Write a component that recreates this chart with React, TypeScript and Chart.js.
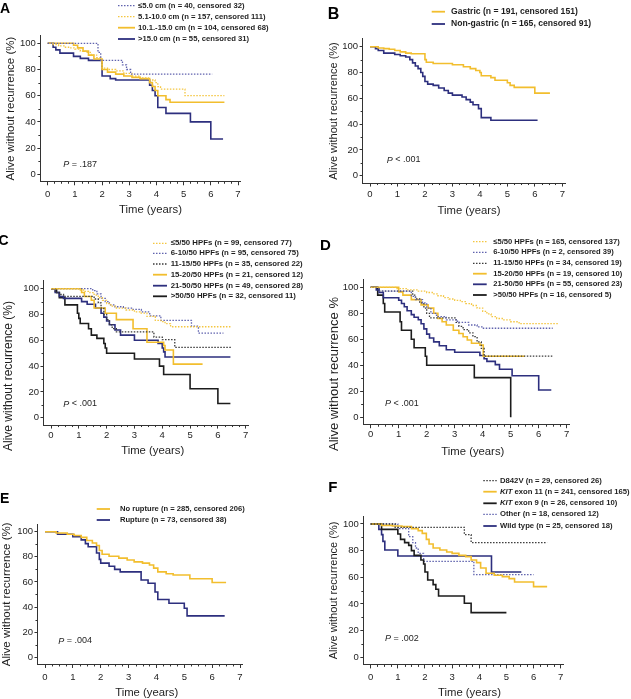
import React, { useEffect, useRef } from "react";
import { Chart, registerables } from "chart.js";

Chart.register(...registerables);

const FONT = '"Liberation Sans", Arial, Helvetica, sans-serif';

// ---------------- data ----------------
const X_TICKS = [0, 1, 2, 3, 4, 5, 6, 7];
const Y_TICKS = [0, 20, 40, 60, 80, 100];
const X_MINOR = [0.25, 0.5, 0.75, 1.25, 1.5, 1.75, 2.25, 2.5, 2.75, 3.25, 3.5, 3.75, 4.25, 4.5, 4.75, 5.25, 5.5, 5.75, 6.25, 6.5, 6.75];
const Y_MINOR = [10, 30, 50, 70, 90];

// Panel A – tumour size
const aLabels = [
  "≤5.0 cm (n = 40, censored 32)",
  "5.1-10.0 cm (n = 157, censored 111)",
  "10.1.-15.0 cm (n = 104, censored 68)",
  ">15.0 cm (n = 55, censored 31)",
];
const aT1 = [0, 1.85, 1.95, 2.75, 2.9, 3.05, 6.05];
const aS1 = [100, 93, 87, 83.5, 80, 76.5, 76.5];
const aT2 = [0, 0.2, 0.4, 0.6, 0.8, 1.0, 1.2, 1.4, 1.6, 1.8, 1.95, 2.0, 2.2, 2.5, 2.8, 3.1, 3.4, 3.7, 3.95, 4.05, 4.15, 5.05, 6.5];
const aS2 = [100, 99, 98, 97, 96.5, 95.5, 94, 93, 91, 89, 87, 81, 80, 79, 77, 75, 73.5, 72, 70, 67, 65, 60, 60];
const aT3 = [0, 0.95, 1.1, 1.3, 1.5, 1.7, 2.0, 2.2, 2.5, 2.8, 3.1, 3.4, 3.75, 3.85, 3.95, 4.05, 4.35, 4.5, 6.5];
const aS3 = [100, 98.5, 96.5, 94, 91, 88, 80, 78, 76.5, 75, 74, 73, 70, 67, 64, 60, 57, 55, 55];
const aT4 = [0, 0.2, 0.3, 0.45, 0.95, 1.2, 1.5, 2.0, 2.3, 2.5, 3.75, 3.85, 3.95, 4.05, 4.35, 5.25, 6.0, 6.45];
const aS4 = [100, 97, 95, 92.5, 90, 88.5, 87, 75, 73, 72, 68, 64, 60, 51, 46.5, 40, 27, 27];

// Panel B – location
const bLabels = ["Gastric (n = 191, censored 151)", "Non-gastric (n = 165, censored 91)"];
const bT1 = [0, 0.3, 0.5, 0.7, 0.9, 1.1, 1.3, 1.5, 2.0, 2.05, 2.3, 3.0, 3.4, 3.65, 3.85, 4.0, 4.05, 4.4, 4.55, 5.0, 5.1, 5.25, 6.0, 6.55];
const bS1 = [100, 99, 98.5, 98, 97, 96, 95, 94.5, 90, 88, 87, 86, 84.5, 83, 81.5, 80, 77.5, 76, 74, 72, 70, 68.5, 64, 64];
const bT2 = [0, 0.2, 0.3, 0.5, 0.9, 1.1, 1.3, 1.45, 1.55, 1.65, 1.75, 1.85, 1.92, 2.0, 2.1, 2.3, 2.5, 2.7, 2.85, 3.0, 3.35, 3.5, 3.65, 3.75, 3.95, 4.05, 4.4, 6.1];
const bS2 = [100, 98.5, 97, 95, 94, 93, 92, 90, 87.5, 85, 83, 80, 77, 73, 71, 70, 68, 66, 64, 62.5, 61, 59, 57, 55, 52, 45, 43, 43];

// Panel C – mitotic count
const cLabels = [
  "≤5/50 HPFs (n = 99, censored 77)",
  "6-10/50 HPFs (n = 95, censored 75)",
  "11-15/50 HPFs (n = 35, censored 22)",
  "15-20/50 HPFs (n = 21, censored 12)",
  "21-50/50 HPFs (n = 49, censored 28)",
  ">50/50 HPFs (n = 32, censored 11)",
];
const cT1 = [0, 1.0, 1.2, 1.4, 1.55, 1.7, 1.85, 2.0, 2.15, 2.35, 2.7, 3.0, 3.2, 3.45, 3.75, 3.95, 4.1, 4.3, 6.5];
const cS1 = [100, 99, 98, 97, 95, 93, 91, 88.5, 86.5, 85, 83.5, 82, 81, 78.5, 75.5, 74.5, 73, 70.5, 70.5];
const cT2 = [0, 1.5, 1.65, 1.8, 1.95, 2.1, 2.3, 2.6, 2.95, 3.25, 3.55, 3.95, 5.05, 5.3, 6.2];
const cS2 = [100, 98.5, 96, 92.5, 90, 87.5, 86, 85, 84, 82, 79, 75.5, 71, 65.5, 65.5];
const cT3 = [0, 0.15, 0.3, 0.45, 1.55, 1.7, 1.8, 1.9, 2.0, 2.1, 2.2, 2.35, 3.7, 4.0, 4.45, 6.5];
const cS3 = [100, 97, 95.5, 94, 92, 89, 85, 80, 76, 72, 69, 66.5, 62.5, 60.5, 54.5, 54.5];
const cT4 = [0, 1.1, 1.2, 1.45, 1.55, 1.95, 2.35, 2.95, 3.45, 4.05, 4.1, 4.4, 5.45];
const cS4 = [100, 97, 94, 91, 85, 81, 76, 69, 58.5, 56, 52.5, 41.5, 41.5];
const cT5 = [0, 0.15, 0.3, 0.45, 1.1, 1.3, 1.6, 1.8, 1.9, 2.0, 2.1, 2.3, 2.5, 3.0, 3.85, 4.0, 4.05, 4.1, 6.45];
const cS5 = [100, 97, 94, 92.5, 90, 88, 85, 81, 78, 75, 72, 68, 64, 60, 57.5, 54, 51, 47, 47];
const cT6 = [0, 0.2, 0.3, 0.5, 0.95, 1.0, 1.05, 1.35, 1.45, 1.65, 1.9, 1.95, 2.0, 3.0, 3.9, 4.05, 5.0, 6.0, 6.45];
const cS6 = [100, 97, 93, 87.5, 81, 77, 73, 69, 64, 61.5, 57.5, 54, 50, 45.5, 40, 33.5, 22.5, 11, 11];

// Panel D – mitotic count (second cohort)
const dLabels = [
  "≤5/50 HPFs (n = 165, censored 137)",
  "6-10/50 HPFs (n = 2, censored 39)",
  "11-15/50 HPFs (n = 34, censored 19)",
  "15-20/50 HPFs (n = 19, censored 10)",
  "21-50/50 HPFs (n = 55, censored 23)",
  ">50/50 HPFs (n = 16, censored 5)",
];
const dT1 = [0, 0.9, 1.3, 1.7, 2.0, 2.2, 2.4, 2.6, 2.8, 3.0, 3.2, 3.4, 3.6, 3.8, 4.0, 4.15, 4.3, 4.5, 4.7, 5.0, 5.3, 6.7];
const dS1 = [100, 99, 98, 97, 96, 95, 93.5, 92, 91, 90, 89, 87.5, 86, 84, 81.5, 79.5, 77.5, 76, 75, 73.5, 72, 72];
const dT2 = [0, 0.3, 1.45, 1.6, 1.85, 2.0, 2.15, 2.35, 2.7, 3.1, 3.5, 3.8, 4.0, 6.5];
const dS2 = [100, 97, 93, 90.5, 88, 84, 80, 77.5, 75, 73, 71, 69.5, 68.5, 68.5];
const dT3 = [0, 0.3, 1.5, 1.6, 1.75, 1.9, 2.0, 2.1, 3.05, 3.15, 3.3, 3.5, 3.65, 3.8, 3.95, 4.05, 6.5];
const dS3 = [100, 97, 94, 91, 88, 84, 80, 76.5, 73, 70, 67.5, 65, 62, 58, 53, 47, 47];
const dT4 = [0, 1.0, 1.15, 1.45, 1.8, 2.05, 2.25, 2.4, 2.55, 2.7, 2.95, 3.15, 3.3, 3.45, 3.6, 3.9, 4.02, 5.5];
const dS4 = [100, 96.5, 94, 90.5, 86.5, 84, 80, 76, 73.5, 71, 67, 64.5, 62, 59.5, 57, 55.5, 47, 47];
const dT5 = [0, 0.2, 0.3, 0.45, 1.0, 1.1, 1.2, 1.3, 1.45, 1.55, 1.7, 1.8, 1.9, 2.0, 2.1, 2.25, 2.45, 2.7, 3.0, 3.9, 4.05, 4.15, 4.45, 4.6, 5.05, 6.0, 6.45];
const dS5 = [100, 98, 96, 92, 90, 87.5, 85, 82, 79, 77, 75, 72, 68, 64, 61, 58, 55, 52, 50, 47.5, 45, 43, 40.5, 37, 32, 21, 21];
const dT6 = [0, 0.25, 0.45, 0.5, 1.05, 1.1, 1.45, 1.55, 1.95, 2.0, 3.7, 5.0];
const dS6 = [100, 94, 87.5, 81, 73.5, 67, 60, 53.5, 47, 40, 30.5, 0];

// Panel E – rupture
const eLabels = ["No rupture (n = 285, censored 206)", "Rupture (n = 73, censored 38)"];
const eT1 = [0, 0.4, 0.8, 1.05, 1.3, 1.5, 1.7, 1.85, 1.95, 2.05, 2.3, 2.65, 2.95, 3.2, 3.5, 3.75, 3.9, 4.05, 4.35, 4.6, 5.2, 6.0, 6.5];
const eS1 = [100, 99, 98, 97, 95.5, 93, 91, 89, 85, 82, 80.5, 79, 77.5, 76, 75, 73.5, 71, 68, 66.5, 65.5, 62.5, 59.5, 59.5];
const eT2 = [0, 0.45, 1.0, 1.3, 1.45, 1.55, 1.85, 1.95, 2.0, 2.3, 2.5, 2.7, 3.45, 3.7, 3.95, 4.05, 4.45, 5.0, 5.1, 6.45];
const eS2 = [100, 98, 96, 93.5, 90.5, 88, 83, 78, 75, 72.5, 70, 68, 61.5, 59, 52, 46, 43, 39, 33, 33];

// Panel F – mutation
const fLabels = [
  "D842V (n = 29, censored 26)",
  "KIT exon 11 (n = 241, censored 165)",
  "KIT exon 9 (n = 26, censored 10)",
  "Other (n = 18, censored 12)",
  "Wild type (n = 25, censored 18)",
];
const fItalic = ["", "KIT", "KIT", "", ""];
const fT1 = [0, 0.9, 3.45, 3.7, 6.5];
const fS1 = [100, 97.5, 92, 86, 86];
const fT2 = [0, 0.4, 0.8, 1.15, 1.5, 1.75, 1.9, 2.05, 2.15, 2.3, 2.55, 2.8, 3.0, 3.25, 3.5, 3.7, 3.9, 4.05, 4.25, 4.55, 4.85, 5.1, 5.3, 6.0, 6.5];
const fS2 = [100, 99, 98.5, 98, 96.5, 95, 93, 88.5, 85, 82, 80.5, 79, 78, 76.5, 75.5, 73, 71, 67, 63, 61.5, 60.5, 59, 56.5, 53, 53];
const fT3 = [0, 0.4, 1.0, 1.1, 1.25, 1.4, 1.5, 1.6, 1.85, 1.95, 2.0, 2.1, 2.3, 2.4, 2.5, 3.45, 3.7, 5.0];
const fS3 = [100, 96, 92.5, 88.5, 86, 84, 80, 76.5, 73, 70, 64, 58, 54.5, 51, 46, 40.5, 33.5, 33.5];
const fT4 = [0, 1.0, 1.4, 1.55, 1.65, 1.75, 1.95, 3.8, 6.0];
const fS4 = [100, 96.5, 90.5, 86, 82, 78, 72, 62, 62];
const fT5 = [0, 0.3, 0.4, 0.45, 0.52, 1.0, 4.45, 5.55];
const fS5 = [100, 96, 92, 87, 80.5, 76, 64, 64];

// ---------------- styles ----------------
const YEL = "#F2BE2E";
const YEL_D = "#F4C640";
const NAVY = "#2D2F7E";
const BLUE_D = "#6063AE";
const BLACK = "#1c1c1c";
const BLACK_D = "#3a3a3a";
const AXIS = "#333333";
const TEXT = "#1e1e1e";
const DOT = [1.5, 1.5];

const XMIN = -0.27;
const XMAX = 7.1;
const YMIN = -5.7;
const YMAX = 106;

interface Series {
  label: string;
  italic: string;
  t: number[];
  s: number[];
  color: string;
  dash: boolean;
  width: number;
}

const mk = (label: string, t: number[], s: number[], color: string, dash: boolean, italic = ""): Series => ({
  label,
  italic,
  t,
  s,
  color,
  dash,
  width: dash ? 1.3 : 1.6,
});

interface Panel {
  letter: string;
  letterX: number;
  letterY: number;
  letterSize: number;
  box: [number, number, number, number];
  px0: number;
  px7: number;
  py100: number;
  py0: number;
  yTitle: string;
  yTitleX: number;
  yTitleY: number | null;
  yTitleSize: number;
  xTitleX: number;
  xTitleY: number;
  xLabelGap: number;
  legX0: number;
  legX1: number;
  legTX: number;
  legRows: number[];
  legSize: number;
  pRest: string;
  pX: number;
  pY: number;
  series: Series[];
}

const YT = "Alive without recurrence (%)";

const PANELS: Panel[] = [
  {
    letter: "A", letterX: 0, letterY: 12.7, letterSize: 14,
    box: [0, 0, 315, 230],
    px0: 47.7, px7: 238, py100: 43.3, py0: 174.3,
    yTitle: YT, yTitleX: 10.5, yTitleY: null, yTitleSize: 11.5,
    xTitleX: 150.5, xTitleY: 210, xLabelGap: 3.7,
    legX0: 118, legX1: 135, legTX: 138, legRows: [5.7, 16.7, 27.7, 39], legSize: 7.7,
    pRest: " = .187", pX: 63.3, pY: 164.3,
    series: [
      mk(aLabels[0], aT1, aS1, BLUE_D, true),
      mk(aLabels[1], aT2, aS2, YEL_D, true),
      mk(aLabels[2], aT3, aS3, YEL, false),
      mk(aLabels[3], aT4, aS4, NAVY, false),
    ],
  },
  {
    letter: "B", letterX: 327.7, letterY: 19.3, letterSize: 16,
    box: [315, 0, 316, 230],
    px0: 370, px7: 562.3, py100: 46.7, py0: 175.7,
    yTitle: YT, yTitleX: 334, yTitleY: null, yTitleSize: 11,
    xTitleX: 469, xTitleY: 210.7, xLabelGap: 2.4,
    legX0: 431.7, legX1: 445, legTX: 451, legRows: [11.7, 24], legSize: 8.6,
    pRest: " < .001", pX: 386.7, pY: 160,
    series: [
      mk(bLabels[0], bT1, bS1, YEL, false),
      mk(bLabels[1], bT2, bS2, NAVY, false),
    ],
  },
  {
    letter: "C", letterX: -1.5, letterY: 245, letterSize: 14,
    box: [0, 230, 315, 235],
    px0: 51, px7: 245.7, py100: 288.7, py0: 417.7,
    yTitle: YT, yTitleX: 9, yTitleY: 376, yTitleSize: 12,
    xTitleX: 152.7, xTitleY: 451, xLabelGap: 1.1,
    legX0: 153, legX1: 167, legTX: 170.7, legRows: [243.3, 253.3, 264, 274.7, 285.7, 296.3], legSize: 7.8,
    pRest: " < .001", pX: 63.3, pY: 404,
    series: [
      mk(cLabels[0], cT1, cS1, YEL_D, true),
      mk(cLabels[1], cT2, cS2, BLUE_D, true),
      mk(cLabels[2], cT3, cS3, BLACK_D, true),
      mk(cLabels[3], cT4, cS4, YEL, false),
      mk(cLabels[4], cT5, cS5, NAVY, false),
      mk(cLabels[5], cT6, cS6, BLACK, false),
    ],
  },
  {
    letter: "D", letterX: 320, letterY: 250, letterSize: 15,
    box: [315, 230, 316, 235],
    px0: 370.7, px7: 566.7, py100: 287.3, py0: 417.3,
    yTitle: "Alive without recurrence %", yTitleX: 334, yTitleY: 374, yTitleSize: 13,
    xTitleX: 472.8, xTitleY: 451.7, xLabelGap: 0.8,
    legX0: 473, legX1: 486.7, legTX: 493.3, legRows: [241.7, 252.3, 263.3, 273.7, 284.3, 295], legSize: 7.6,
    pRest: " < .001", pX: 385, pY: 403.3,
    series: [
      mk(dLabels[0], dT1, dS1, YEL_D, true),
      mk(dLabels[1], dT2, dS2, BLUE_D, true),
      mk(dLabels[2], dT3, dS3, BLACK_D, true),
      mk(dLabels[3], dT4, dS4, YEL, false),
      mk(dLabels[4], dT5, dS5, NAVY, false),
      mk(dLabels[5], dT6, dS6, BLACK, false),
    ],
  },
  {
    letter: "E", letterX: 0, letterY: 503.3, letterSize: 14,
    box: [0, 465, 315, 234],
    px0: 45, px7: 240, py100: 531.7, py0: 657.3,
    yTitle: YT, yTitleX: 6.7, yTitleY: null, yTitleSize: 11.5,
    xTitleX: 146.7, xTitleY: 693.3, xLabelGap: 3.7,
    legX0: 96.7, legX1: 110, legTX: 120, legRows: [509, 520], legSize: 7.6,
    pRest: " = .004", pX: 58.3, pY: 641,
    series: [
      mk(eLabels[0], eT1, eS1, YEL, false),
      mk(eLabels[1], eT2, eS2, NAVY, false),
    ],
  },
  {
    letter: "F", letterX: 328.3, letterY: 491.7, letterSize: 15,
    box: [315, 465, 316, 234],
    px0: 370.7, px7: 560.7, py100: 524, py0: 657.3,
    yTitle: YT, yTitleX: 334, yTitleY: null, yTitleSize: 11,
    xTitleX: 469.5, xTitleY: 693.3, xLabelGap: 3.5,
    legX0: 483.3, legX1: 496.7, legTX: 500, legRows: [480.7, 491.7, 503.3, 514.3, 526], legSize: 7.7,
    pRest: " = .002", pX: 385, pY: 638.3,
    series: [
      mk(fLabels[0], fT1, fS1, BLACK_D, true, fItalic[0]),
      mk(fLabels[1], fT2, fS2, YEL, false, fItalic[1]),
      mk(fLabels[2], fT3, fS3, BLACK, false, fItalic[2]),
      mk(fLabels[3], fT4, fS4, BLUE_D, true, fItalic[3]),
      mk(fLabels[4], fT5, fS5, NAVY, false, fItalic[4]),
    ],
  },
];

function decorPlugin(p: Panel) {
  return {
    id: "decor" + p.letter,
    afterDraw(chart: any) {
      const ctx: CanvasRenderingContext2D = chart.ctx;
      const xs = chart.scales.x;
      const ys = chart.scales.y;
      const ca = chart.chartArea;
      const ox = p.box[0];
      const oy = p.box[1];
      ctx.save();
      // minor ticks
      ctx.strokeStyle = AXIS;
      ctx.lineWidth = 1;
      ctx.setLineDash([]);
      ctx.beginPath();
      for (const v of X_MINOR) {
        const px = Math.round(xs.getPixelForValue(v)) + 0.5;
        ctx.moveTo(px, ca.bottom);
        ctx.lineTo(px, ca.bottom + 2);
      }
      for (const v of Y_MINOR) {
        const py = Math.round(ys.getPixelForValue(v)) + 0.5;
        ctx.moveTo(ca.left, py);
        ctx.lineTo(ca.left - 2, py);
      }
      ctx.stroke();

      ctx.fillStyle = TEXT;
      // x title
      ctx.font = `11.3px ${FONT}`;
      ctx.textAlign = "center";
      ctx.textBaseline = "middle";
      ctx.fillText("Time (years)", p.xTitleX - ox, p.xTitleY - oy);
      // y title
      ctx.save();
      const yc = p.yTitleY === null ? (ca.top + ca.bottom) / 2 : p.yTitleY - oy;
      ctx.translate(p.yTitleX - ox, yc);
      ctx.rotate(-Math.PI / 2);
      ctx.font = `${p.yTitleSize}px ${FONT}`;
      ctx.fillText(p.yTitle, 0, 0);
      ctx.restore();

      // legend
      p.series.forEach((s, i) => {
        const y = p.legRows[i] - oy;
        ctx.beginPath();
        ctx.setLineDash(s.dash ? DOT : []);
        ctx.strokeStyle = s.color;
        ctx.lineWidth = s.dash ? 1.3 : 1.8;
        ctx.moveTo(p.legX0 - ox, y);
        ctx.lineTo(p.legX1 - ox, y);
        ctx.stroke();
        ctx.setLineDash([]);
        ctx.fillStyle = TEXT;
        ctx.textAlign = "left";
        ctx.textBaseline = "middle";
        let tx = p.legTX - ox;
        let rest = s.label;
        if (s.italic) {
          ctx.font = `italic bold ${p.legSize}px ${FONT}`;
          ctx.fillText(s.italic, tx, y);
          tx += ctx.measureText(s.italic).width;
          rest = s.label.slice(s.italic.length);
        }
        ctx.font = `bold ${p.legSize}px ${FONT}`;
        ctx.fillText(rest, tx, y);
      });

      // P value
      ctx.fillStyle = TEXT;
      ctx.textAlign = "left";
      ctx.textBaseline = "middle";
      ctx.font = `italic 9px ${FONT}`;
      ctx.fillText("P", p.pX - ox, p.pY - oy);
      const pw = ctx.measureText("P").width;
      ctx.font = `9px ${FONT}`;
      ctx.fillText(p.pRest, p.pX - ox + pw, p.pY - oy);

      // panel letter
      ctx.font = `bold ${p.letterSize}px ${FONT}`;
      ctx.textBaseline = "alphabetic";
      ctx.fillStyle = "#000";
      ctx.fillText(p.letter, p.letterX - ox, p.letterY - oy);
      ctx.restore();
    },
  };
}

function buildChart(canvas: HTMLCanvasElement, p: Panel): Chart {
  const [left, top, width, height] = p.box;
  const perYear = (p.px7 - p.px0) / 7;
  const perUnit = (p.py0 - p.py100) / 100;
  const chartLeft = p.px0 + XMIN * perYear;
  const chartRight = p.px0 + XMAX * perYear;
  const chartTop = p.py0 - YMAX * perUnit;
  const chartBottom = p.py0 - YMIN * perUnit;
  const padTop = chartTop - top;
  const padRight = left + width - chartRight;
  const yAxisW = chartLeft - left;
  const xAxisH = top + height - chartBottom;

  return new Chart(canvas, {
    type: "line",
    data: {
      datasets: p.series.map((s) => ({
        label: s.label,
        data: s.t.map((x, i) => ({ x, y: s.s[i] })),
        borderColor: s.color,
        backgroundColor: s.color,
        borderWidth: s.width,
        borderDash: s.dash ? DOT : [],
        stepped: "before" as const,
        pointRadius: 0,
        fill: false,
        tension: 0,
      })),
    },
    options: {
      responsive: false,
      animation: false,
      events: [],
      devicePixelRatio: 1,
      layout: { padding: { left: 0, top: padTop, right: padRight, bottom: 0 } },
      plugins: { legend: { display: false }, tooltip: { enabled: false }, title: { display: false } },
      scales: {
        x: {
          type: "linear",
          min: XMIN,
          max: XMAX,
          afterBuildTicks: (sc: any) => {
            sc.ticks = X_TICKS.map((v) => ({ value: v }));
          },
          afterFit: (sc: any) => {
            sc.height = xAxisH;
          },
          grid: { display: true, drawOnChartArea: false, drawTicks: true, tickLength: 3.5, color: AXIS, lineWidth: 1 },
          border: { display: true, color: AXIS, width: 1 },
          ticks: {
            color: TEXT,
            font: { size: 9.5, family: FONT },
            padding: p.xLabelGap,
            maxRotation: 0,
            autoSkip: false,
            callback: (v: any) => String(v),
          },
        },
        y: {
          type: "linear",
          min: YMIN,
          max: YMAX,
          afterBuildTicks: (sc: any) => {
            sc.ticks = Y_TICKS.map((v) => ({ value: v }));
          },
          afterFit: (sc: any) => {
            sc.width = yAxisW;
          },
          grid: { display: true, drawOnChartArea: false, drawTicks: true, tickLength: 3, color: AXIS, lineWidth: 1 },
          border: { display: true, color: AXIS, width: 1 },
          ticks: {
            color: TEXT,
            font: { size: 9.5, family: FONT },
            padding: 1.5,
            autoSkip: false,
            callback: (v: any) => String(v),
          },
        },
      },
    },
    plugins: [decorPlugin(p)],
  } as any);
}

export default function App() {
  const refs = useRef<(HTMLCanvasElement | null)[]>([]);

  useEffect(() => {
    const charts: Chart[] = [];
    PANELS.forEach((p, i) => {
      const c = refs.current[i];
      if (c) charts.push(buildChart(c, p));
    });
    return () => {
      charts.forEach((c) => c.destroy());
    };
  }, []);

  return (
    <div style={{ position: "absolute", left: 0, top: 0, width: 631, height: 699, background: "#fff", overflow: "hidden" }}>
      {PANELS.map((p, i) => (
        <canvas
          key={p.letter}
          ref={(el) => {
            refs.current[i] = el;
          }}
          width={p.box[2]}
          height={p.box[3]}
          style={{ position: "absolute", left: p.box[0], top: p.box[1], width: p.box[2], height: p.box[3] }}
        />
      ))}
    </div>
  );
}
